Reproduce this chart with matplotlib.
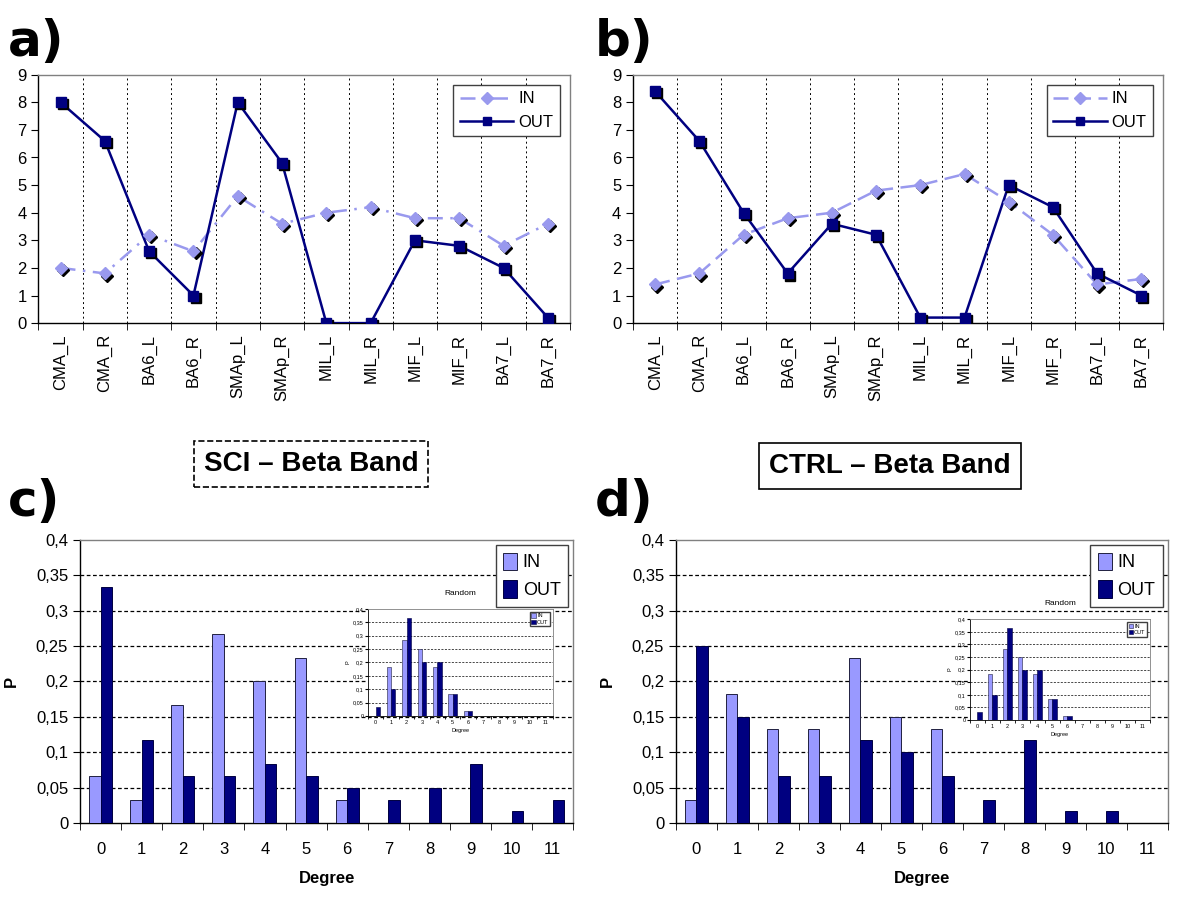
import numpy as np
import matplotlib
matplotlib.use('Agg')
from matplotlib import pyplot as plt
from matplotlib import transforms
from matplotlib.ticker import FixedLocator, FuncFormatter

plt.rcParams['font.family'] = ['Liberation Sans', 'DejaVu Sans']

# data
regions = ['CMA_L', 'CMA_R', 'BA6_L', 'BA6_R', 'SMAp_L', 'SMAp_R',
           'MIL_L', 'MIL_R', 'MIF_L', 'MIF_R', 'BA7_L', 'BA7_R']
sci_in = [2.0, 1.8, 3.2, 2.6, 4.6, 3.6, 4.0, 4.2, 3.8, 3.8, 2.8, 3.6]
sci_out = [8.0, 6.6, 2.6, 1.0, 8.0, 5.8, 0.0, 0.0, 3.0, 2.8, 2.0, 0.2]
ctrl_in = [1.4, 1.8, 3.2, 3.8, 4.0, 4.8, 5.0, 5.4, 4.4, 3.2, 1.4, 1.6]
ctrl_out = [8.4, 6.6, 4.0, 1.8, 3.6, 3.2, 0.2, 0.2, 5.0, 4.2, 1.8, 1.0]

degree = list(range(12))
sci_p_in = [0.067, 0.033, 0.167, 0.267, 0.2, 0.233, 0.033, 0, 0, 0, 0, 0]
sci_p_out = [0.333, 0.117, 0.067, 0.067, 0.083, 0.067, 0.05, 0.033, 0.05, 0.083, 0.017, 0.033]
ctrl_p_in = [0.033, 0.183, 0.133, 0.133, 0.233, 0.15, 0.133, 0, 0, 0, 0, 0]
ctrl_p_out = [0.25, 0.15, 0.067, 0.067, 0.117, 0.1, 0.067, 0.033, 0.117, 0.017, 0.017, 0]
rand_in = [0, 0.183, 0.283, 0.25, 0.183, 0.083, 0.017, 0, 0, 0, 0, 0]
rand_out = [0.033, 0.1, 0.367, 0.2, 0.2, 0.083, 0.017, 0, 0, 0, 0, 0]

C_IN = '#9999EE'
C_BAR_IN = '#9999FF'
C_OUT = '#000080'

comma = FuncFormatter(lambda v, p: ('%g' % round(v, 3)).replace('.', ','))

fig = plt.figure(figsize=(12, 9), dpi=100)


def frame(ax, lw=1.0):
    for s in ['top', 'right']:
        ax.spines[s].set_color('#808080')
        ax.spines[s].set_linewidth(lw)
    for s in ['left', 'bottom']:
        ax.spines[s].set_color('black')
        ax.spines[s].set_linewidth(lw)


def line_panel(rect, vin, vout, in_style):
    ax = fig.add_axes(rect)
    x = np.arange(len(regions))
    shadow = transforms.offset_copy(ax.transData, fig=fig, x=1.5, y=-1.5, units='points')
    ax.plot(x, vin, color=C_IN, ls=in_style, lw=1.8, zorder=2)
    ax.plot(x, vout, color=C_OUT, lw=1.8, zorder=3)
    ax.plot(x, vin, 'D', color='black', ms=6, transform=shadow, zorder=4)
    ax.plot(x, vin, 'D', color=C_IN, ms=6, zorder=5)
    ax.plot(x, vout, 's', color='black', ms=7, transform=shadow, zorder=4)
    ax.plot(x, vout, 's', color=C_OUT, ms=7, zorder=5)
    h1, = ax.plot([], [], color=C_IN, ls=in_style, lw=1.8, marker='D', ms=6)
    h2, = ax.plot([], [], color=C_OUT, lw=1.8, marker='s', ms=6)
    leg = ax.legend([h1, h2], ['IN', 'OUT'], loc='upper right', fancybox=False,
                    framealpha=1, edgecolor='#404040', fontsize=12, handlelength=3.2,
                    borderaxespad=0.6, handletextpad=0.3)
    leg.get_frame().set_linewidth(1.0)
    ax.set_xlim(-0.5, len(regions) - 0.5)
    ax.set_ylim(0, 9)
    ax.set_yticks(range(10))
    ax.set_xticks(x)
    ax.set_xticklabels(regions, rotation=90, fontsize=12)
    ax.xaxis.set_minor_locator(FixedLocator(np.arange(-0.5, len(regions), 1)))
    ax.tick_params(axis='x', which='major', length=0, pad=8)
    ax.tick_params(axis='x', which='minor', length=5, direction='out')
    ax.tick_params(axis='y', labelsize=12, length=5)
    for b in np.arange(0.5, len(regions) - 1, 1):
        ax.axvline(b, color='black', ls=(0, (2, 3)), lw=0.7, zorder=1)
    frame(ax)
    return ax


def bar_panel(rect, pin, pout, small=False):
    ax = fig.add_axes(rect)
    x = np.arange(len(degree))
    w = 0.28
    b1 = ax.bar(x - w / 2, pin, w, color=C_BAR_IN, edgecolor='#202040',
                lw=0.4 if small else 0.7, zorder=3)
    b2 = ax.bar(x + w / 2, pout, w, color=C_OUT, edgecolor='#000040',
                lw=0.4 if small else 0.7, zorder=3)
    ax.set_xlim(-0.5, len(degree) - 0.5)
    ax.set_ylim(0, 0.4)
    ax.set_yticks(np.arange(0, 0.401, 0.05))
    ax.yaxis.set_major_formatter(comma)
    ax.set_xticks(x)
    ax.set_xticklabels([str(d) for d in degree])
    ax.xaxis.set_minor_locator(FixedLocator(np.arange(-0.5, len(degree), 1)))
    for yv in np.arange(0.05, 0.4, 0.05):
        ax.axhline(yv, color='black', ls=(0, (3, 2)), lw=0.5 if small else 0.9, zorder=1)
    if small:
        ax.tick_params(axis='x', which='major', length=0, labelsize=4, pad=3)
        ax.tick_params(axis='x', which='minor', length=2)
        ax.tick_params(axis='y', labelsize=4, length=2, pad=1)
        ax.set_xlabel('Degree', fontsize=4, labelpad=2)
        ax.set_ylabel('P', fontsize=4, labelpad=2)
        ax.set_title('Random', fontsize=6, pad=10)
        ax.legend([b1, b2], ['IN', 'OUT'], loc='upper right', fancybox=False, framealpha=1,
                  edgecolor='#404040', fontsize=4, handlelength=0.8, handleheight=0.8,
                  borderpad=0.3, labelspacing=0.2, handletextpad=0.2)
        frame(ax, 0.6)
    else:
        ax.tick_params(axis='x', which='major', length=0, labelsize=12, pad=14)
        ax.tick_params(axis='x', which='minor', length=5)
        ax.tick_params(axis='y', labelsize=12, length=5)
        ax.set_xlabel('Degree', fontsize=12, fontweight='bold', labelpad=10)
        ax.set_ylabel('P', fontsize=12, fontweight='bold', labelpad=12)
        leg = ax.legend([b1, b2], ['IN', 'OUT'], loc='upper right', fancybox=False,
                        framealpha=1, edgecolor='#404040', fontsize=13, handlelength=0.8,
                        handleheight=1.1, borderpad=0.4, labelspacing=0.5,
                        handletextpad=0.3, borderaxespad=0.3)
        leg.get_frame().set_linewidth(1.0)
        frame(ax)
    return ax


line_panel([0.032, 0.641, 0.443, 0.276], sci_in, sci_out, (0, (6, 3, 1, 3)))
line_panel([0.5275, 0.641, 0.442, 0.276], ctrl_in, ctrl_out, (0, (6, 3)))

bar_panel([0.0667, 0.0856, 0.411, 0.3144], sci_p_in, sci_p_out)
bar_panel([0.5633, 0.0856, 0.41, 0.3144], ctrl_p_in, ctrl_p_out)
bar_panel([0.3067, 0.2044, 0.154, 0.119], rand_in, rand_out, small=True)
bar_panel([0.8083, 0.2, 0.15, 0.112], rand_in, rand_out, small=True)

# panel letters
for lbl, px, py in [('a)', 8, 42), ('b)', 595, 42), ('c)', 8, 502), ('d)', 595, 502)]:
    fig.text(px / 1200, 1 - py / 900, lbl, fontsize=36, fontweight='bold',
             family='DejaVu Sans', va='center', ha='left')

# group headers
fig.text(311 / 1200, 1 - 464 / 900, 'SCI \u2013 Beta Band', fontsize=20, fontweight='bold',
         ha='center', va='center',
         bbox=dict(boxstyle='square,pad=0.35', fc='white', ec='black', ls='--', lw=1.2))
fig.text(890 / 1200, 1 - 466 / 900, 'CTRL \u2013 Beta Band', fontsize=20, fontweight='bold',
         ha='center', va='center',
         bbox=dict(boxstyle='square,pad=0.35', fc='white', ec='black', lw=1.2))

fig.savefig('out.png', dpi=100)
